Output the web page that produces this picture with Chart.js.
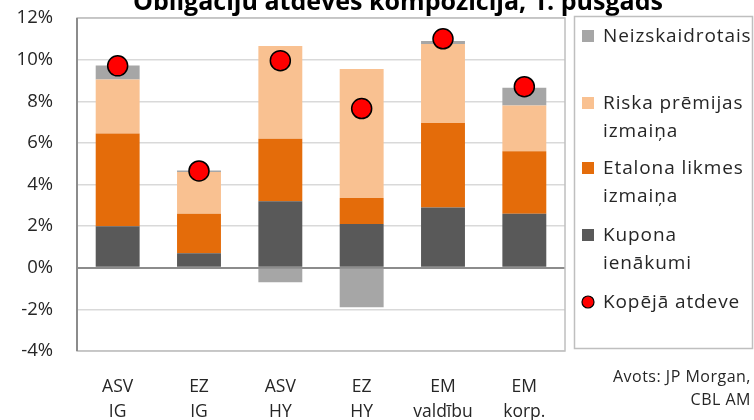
<!DOCTYPE html>
<html lang="lv">
<head>
<meta charset="utf-8">
<title>Obligāciju atdeves kompozīcija</title>
<script src="https://cdn.jsdelivr.net/npm/chart.js@4/dist/chart.umd.min.js"></script>
<style>
  html, body { margin: 0; padding: 0; background: #ffffff; }
  #wrap { width: 754px; height: 420px; position: relative; }
</style>
</head>
<body>
<div id="wrap"><canvas id="c" width="754" height="420"></canvas></div>
<script>
// Bond return decomposition, first half-year (percentage points)
const categories = [['ASV', 'IG'], ['EZ', 'IG'], ['ASV', 'HY'], ['EZ', 'HY'], ['EM', 'valdību'], ['EM', 'korp.']];
const kuponaIenakumi = [2.0, 0.7, 3.2, 2.1, 2.9, 2.6];
const etalonaLikmes = [4.45, 1.9, 3.0, 1.25, 4.05, 3.0];
const riskaPremijas = [2.6, 2.0, 4.45, 6.2, 3.8, 2.2];
const neizskaidrotais = [0.67, 0.07, -0.7, -1.9, 0.15, 0.85];
const kopejaAtdeve = [9.7, 4.65, 9.95, 7.65, 11.0, 8.7];
const yTicks = [-4, -2, 0, 2, 4, 6, 8, 10, 12];

const titleText = 'Obligāciju atdeves kompozīcija, 1. pusgads';
const sourceLines = ['Avots: JP Morgan,', 'CBL AM'];

const COL_NEIZ = '#A6A6A6';
const COL_RISKA = '#F9C191';
const COL_ETAL = '#E46C0A';
const COL_KUP = '#595959';
const FONT = '"Open Sans", "Noto Sans", sans-serif';

// Legend entries: label lines, colour, marker shape
const legendItems = [
  { lines: ['Neizskaidrotais'], color: COL_NEIZ, y: 36, shape: 'box' },
  { lines: ['Riska prēmijas', 'izmaiņa'], color: COL_RISKA, y: 103, shape: 'box' },
  { lines: ['Etalona likmes', 'izmaiņa'], color: COL_ETAL, y: 168, shape: 'box' },
  { lines: ['Kupona', 'ienākumi'], color: COL_KUP, y: 235, shape: 'box' },
  { lines: ['Kopējā atdeve'], color: '#FF0000', y: 302, shape: 'circle' }
];

const decorations = {
  id: 'decorations',
  beforeDatasetsDraw(chart) {
    const { ctx, chartArea: a } = chart;
    ctx.save();
    ctx.strokeStyle = '#BFBFBF';
    ctx.lineWidth = 1.5;
    ctx.strokeRect(a.left, a.top, a.right - a.left, a.bottom - a.top);
    ctx.restore();
  },
  afterDraw(chart) {
    const { ctx, chartArea: a } = chart;
    ctx.save();
    // left axis line
    ctx.strokeStyle = '#8C8C8C';
    ctx.lineWidth = 2;
    ctx.beginPath();
    ctx.moveTo(a.left, a.top);
    ctx.lineTo(a.left, a.bottom);
    ctx.stroke();

    // title (partly above the canvas)
    ctx.fillStyle = '#000000';
    ctx.textAlign = 'center';
    ctx.textBaseline = 'alphabetic';
    ctx.font = 'bold 20px ' + FONT;
    const w20 = ctx.measureText(titleText).width;
    const size = 20 * 530 / w20;
    ctx.font = 'bold ' + size.toFixed(2) + 'px ' + FONT;
    ctx.fillText(titleText, 398, 9.5);

    // legend box
    ctx.strokeStyle = '#BFBFBF';
    ctx.lineWidth = 1.5;
    ctx.strokeRect(574.5, 16.5, 178, 332);
    ctx.font = '19px ' + FONT;
    ctx.letterSpacing = '0.9px';
    ctx.textAlign = 'left';
    ctx.textBaseline = 'middle';
    legendItems.forEach(it => {
      if (it.shape === 'box') {
        ctx.fillStyle = it.color;
        ctx.fillRect(582, it.y - 6, 12, 12);
      } else {
        ctx.beginPath();
        ctx.arc(588, it.y, 6, 0, Math.PI * 2);
        ctx.fillStyle = it.color;
        ctx.fill();
        ctx.strokeStyle = '#000000';
        ctx.lineWidth = 1.2;
        ctx.stroke();
      }
      ctx.fillStyle = '#262626';
      it.lines.forEach((ln, i) => ctx.fillText(ln, 603, it.y + 1 + i * 28));
    });

    // source note
    ctx.font = '16px ' + FONT;
    ctx.letterSpacing = '0.5px';
    ctx.textAlign = 'right';
    ctx.fillStyle = '#262626';
    ctx.fillText(sourceLines[0], 751, 377);
    ctx.fillText(sourceLines[1], 751, 400);
    ctx.letterSpacing = '0px';
    ctx.restore();
  }
};

new Chart(document.getElementById('c'), {
  data: {
    labels: categories,
    datasets: [
      {
        type: 'line', label: 'Kopējā atdeve', data: kopejaAtdeve, stack: 'total',
        showLine: false, pointRadius: 10, pointHoverRadius: 10,
        pointBackgroundColor: '#FF0000', pointBorderColor: '#000000', pointBorderWidth: 1.5,
        order: -1
      },
      { type: 'bar', label: 'Kupona ienākumi', data: kuponaIenakumi, backgroundColor: COL_KUP, stack: 'parts' },
      { type: 'bar', label: 'Etalona likmes izmaiņa', data: etalonaLikmes, backgroundColor: COL_ETAL, stack: 'parts' },
      { type: 'bar', label: 'Riska prēmijas izmaiņa', data: riskaPremijas, backgroundColor: COL_RISKA, stack: 'parts' },
      { type: 'bar', label: 'Neizskaidrotais', data: neizskaidrotais, backgroundColor: COL_NEIZ, stack: 'parts' }
    ]
  },
  options: {
    responsive: false,
    animation: false,
    events: [],
    layout: { padding: { left: 0, top: 18, right: 189, bottom: 0 } },
    datasets: { bar: { categoryPercentage: 1, barPercentage: 0.54, borderWidth: 0 } },
    plugins: { legend: { display: false }, tooltip: { enabled: false }, title: { display: false } },
    scales: {
      x: {
        stacked: true,
        grid: { display: false, drawTicks: false },
        border: { display: false },
        ticks: { color: '#262626', font: { family: FONT, size: 17.5, lineHeight: 1.42 }, padding: 24, maxRotation: 0, autoSkip: false },
        afterFit(s) { s.height = 69; s.paddingLeft = 0; s.paddingRight = 0; s.paddingTop = 0; s.paddingBottom = 0; }
      },
      y: {
        stacked: true,
        min: -4, max: 12,
        afterBuildTicks(s) { s.ticks = yTicks.map(v => ({ value: v })); },
        grid: {
          drawTicks: false,
          color: c => (c.tick && c.tick.value === 0 ? '#8C8C8C' : '#D9D9D9'),
          lineWidth: c => (c.tick && c.tick.value === 0 ? 2 : 1.5)
        },
        border: { display: false },
        ticks: { color: '#262626', font: { family: FONT, size: 18.5 }, padding: 24, callback: v => v + '%' },
        afterFit(s) { s.width = 77; s.paddingTop = 0; s.paddingBottom = 0; s.paddingLeft = 0; s.paddingRight = 0; }
      }
    }
  },
  plugins: [decorations]
});
</script>
</body>
</html>
